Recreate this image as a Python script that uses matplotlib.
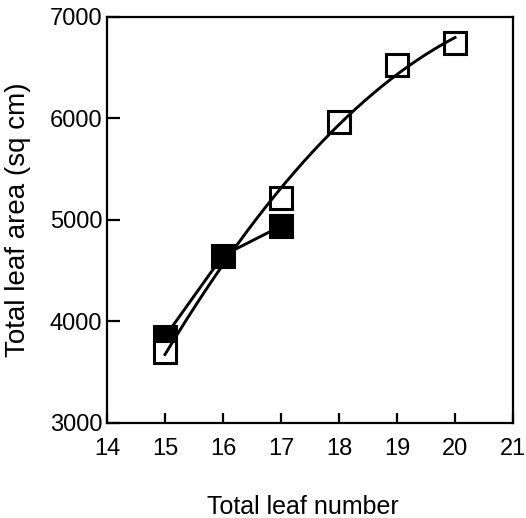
import numpy as np
import matplotlib
matplotlib.use('Agg')
import matplotlib.pyplot as plt
from matplotlib import rcParams
rcParams['font.family'] = ['Liberation Sans', 'DejaVu Sans']

# open squares (fitted with a curve)
open_x = [15, 17, 18, 19, 20]
open_y = [3700, 5220, 5970, 6530, 6740]

# filled squares (joined by straight lines)
filled_x = [15, 16, 17]
filled_y = [3850, 4650, 4940]

xticks = [14, 15, 16, 17, 18, 19, 20, 21]
yticks = [3000, 4000, 5000, 6000, 7000]

fig = plt.figure(figsize=(5.26, 5.18), dpi=100)
ax = fig.add_axes([0.2034, 0.1834, 0.7719, 0.7838])

# quadratic fit through the open-square data
coef = np.polyfit(open_x, open_y, 2)
xf = np.linspace(min(open_x), max(open_x), 200)
yf = np.polyval(coef, xf)

ax.plot(filled_x, filled_y, ls='none', marker='s', ms=16.5, mew=2.2,
        mfc='black', mec='black', zorder=2)
ax.plot(open_x, open_y, ls='none', marker='s', ms=16.5, mew=2.2,
        mfc='white', mec='black', zorder=3)
ax.plot(xf, yf, color='black', lw=2.1, zorder=4)
ax.plot(filled_x, filled_y, color='black', lw=2.1, zorder=4)

ax.set_xlim(14, 21)
ax.set_ylim(3000, 7000)
ax.set_xticks(xticks)
ax.set_yticks(yticks)

for s in ax.spines.values():
    s.set_linewidth(1.6)

ax.tick_params(axis='x', direction='in', length=7, width=1.6, pad=11,
               labelsize=17)
ax.tick_params(axis='y', direction='in', length=9, width=1.6, pad=3.5,
               labelsize=17)

ax.set_xlabel('Total leaf number', fontsize=18)
ax.xaxis.set_label_coords(0.483, -0.178)
ax.set_ylabel('Total leaf area (sq cm)', fontsize=20, labelpad=13)

fig.savefig('out.png', dpi=100)
